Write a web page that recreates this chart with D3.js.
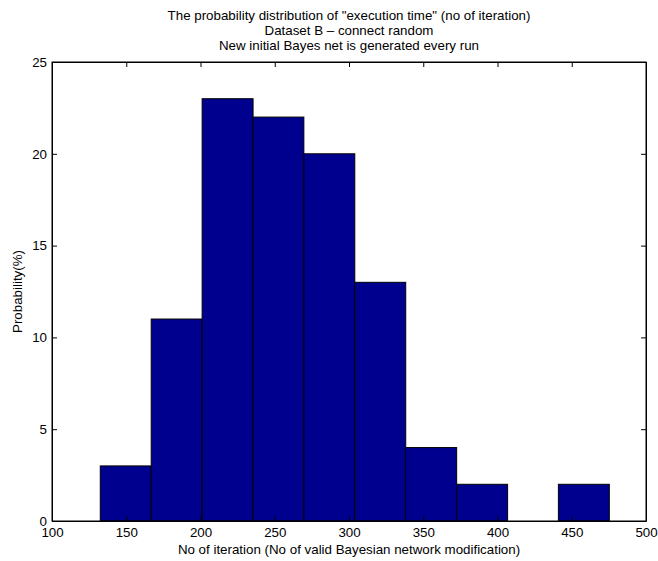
<!DOCTYPE html>
<html>
<head>
<meta charset="utf-8">
<script src="https://cdn.jsdelivr.net/npm/d3@7"></script>
<style>
  body { margin: 0; background: #fff; }
  text { font-family: "Liberation Sans", Arial, sans-serif; fill: #000; }
</style>
</head>
<body>
<div id="chart"></div>
<script>
// histogram bin edges (no of iteration) and probability per bin (%)
const binEdges = [132.5, 166.8, 201.1, 235.4, 269.6, 303.9, 338.2, 372.5, 406.8, 441.0, 475.3];
const probabilities = [3, 11, 23, 22, 20, 13, 4, 2, 0, 2];
const xTicks = [100, 150, 200, 250, 300, 350, 400, 450, 500];
const yTicks = [0, 5, 10, 15, 20, 25];
const titleLines = [
  'The probability distribution of "execution time" (no of iteration)',
  "Dataset B \u2013 connect random",
  "New initial Bayes net is generated every run"
];

const width = 658, height = 561;
const margin = {top: 62, right: 12, bottom: 40, left: 52};
const fontSize = 13.33;

const bins = probabilities.map((p, i) => ({x0: binEdges[i], x1: binEdges[i + 1], value: p}));

const x = d3.scaleLinear().domain([100, 500]).range([margin.left, width - margin.right]);
const y = d3.scaleLinear().domain([0, 25]).range([height - margin.bottom, margin.top]);

const svg = d3.select("#chart").append("svg")
  .attr("width", width)
  .attr("height", height);

// bars
svg.append("g")
  .selectAll("rect")
  .data(bins.filter(d => d.value > 0))
  .join("rect")
  .attr("x", d => x(d.x0))
  .attr("y", d => y(d.value))
  .attr("width", d => x(d.x1) - x(d.x0))
  .attr("height", d => y(0) - y(d.value))
  .attr("fill", "#00008f")
  .attr("stroke", "#000")
  .attr("stroke-width", 1);

// axes, ticks pointing inward like matlab
const tickLen = 5;
const xAxis = g => g
  .attr("transform", `translate(0,${y(0)})`)
  .call(d3.axisBottom(x).tickValues(xTicks).tickSize(-tickLen).tickPadding(6.5).tickSizeOuter(0))
  .attr("font-size", fontSize);
const xAxisTop = g => g
  .attr("transform", `translate(0,${y(25)})`)
  .call(d3.axisTop(x).tickValues(xTicks).tickSize(-tickLen).tickFormat("").tickSizeOuter(0));
const yAxis = g => g
  .attr("transform", `translate(${x(100)},0)`)
  .call(d3.axisLeft(y).tickValues(yTicks).tickSize(-tickLen).tickPadding(5).tickSizeOuter(0))
  .attr("font-size", fontSize);
const yAxisRight = g => g
  .attr("transform", `translate(${x(500)},0)`)
  .call(d3.axisRight(y).tickValues(yTicks).tickSize(-tickLen).tickFormat("").tickSizeOuter(0));

svg.append("g").call(xAxis);
svg.append("g").call(xAxisTop);
svg.append("g").call(yAxis);
svg.append("g").call(yAxisRight);

svg.selectAll(".domain").attr("stroke", "#000");
svg.selectAll(".tick line").attr("stroke", "#000");
svg.selectAll(".tick text").attr("font-family", "'Liberation Sans', Arial, sans-serif");

// box
svg.append("rect")
  .attr("x", x(100))
  .attr("y", y(25))
  .attr("width", x(500) - x(100))
  .attr("height", y(0) - y(25))
  .attr("fill", "none")
  .attr("stroke", "#000");

// title
svg.append("g")
  .selectAll("text")
  .data(titleLines)
  .join("text")
  .attr("x", (x(100) + x(500)) / 2)
  .attr("y", (d, i) => 20 + i * 15)
  .attr("text-anchor", "middle")
  .attr("font-size", fontSize)
  .text(d => d);

svg.append("text")
  .attr("x", (x(100) + x(500)) / 2)
  .attr("y", 554)
  .attr("text-anchor", "middle")
  .attr("font-size", fontSize)
  .text("No of iteration (No of valid Bayesian network modification)");

svg.append("text")
  .attr("transform", `translate(22,${(y(0) + y(25)) / 2})rotate(-90)`)
  .attr("text-anchor", "middle")
  .attr("font-size", fontSize)
  .text("Probability(%)");
</script>
</body>
</html>
